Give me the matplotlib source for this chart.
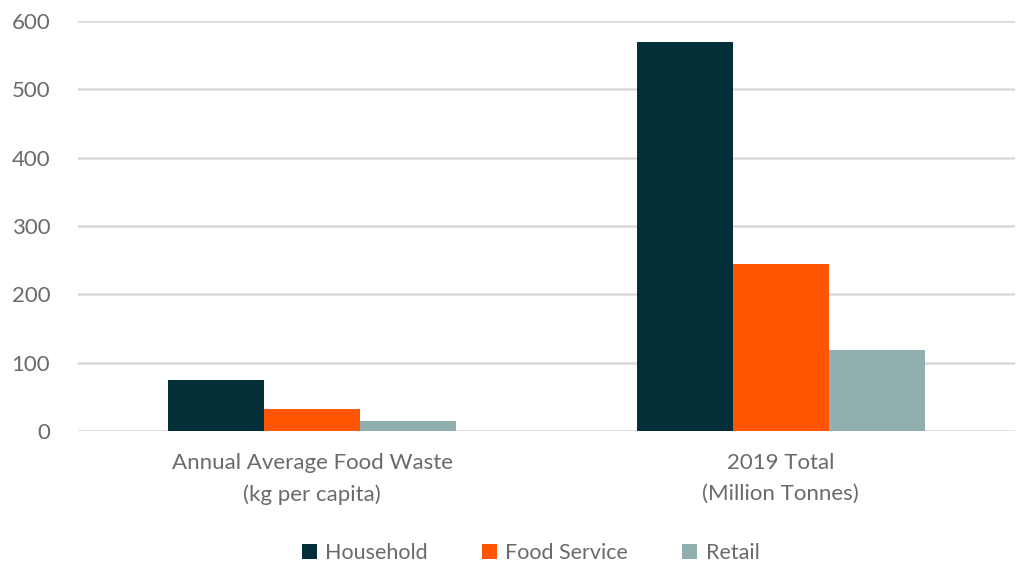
import numpy as np
import matplotlib.pyplot as plt

categories = ["Annual Average Food Waste\n(kg per capita)", "2019 Total\n(Million Tonnes)"]
series = ["Household", "Food Service", "Retail"]
household = [74, 569]
food_service = [32, 244]
retail = [15, 118]
colors = ["#033038", "#FF5500", "#8FB0AF"]
yticks = [0, 100, 200, 300, 400, 500, 600]

plt.rcParams['font.family'] = ['Lato', 'DejaVu Sans']
txt = "#6a6a6a"

fig = plt.figure(figsize=(10.17, 5.63), dpi=100)
ax = fig.add_axes([0.0767, 0.2345, 0.9213, 0.7282])

x = np.arange(len(categories))
w = 0.205
for i, (name, vals) in enumerate(zip(series, [household, food_service, retail])):
	ax.bar(x + (i - 1) * w, vals, w, color=colors[i], label=name, zorder=3)

ax.set_xlim(-0.5, 1.5)
ax.set_ylim(0, 600)
ax.set_yticks(yticks)
ax.set_xticks(x)
ax.set_xticklabels(categories, fontsize=16, color=txt, linespacing=1.65)
ax.tick_params(axis='y', labelsize=16, labelcolor=txt, length=0, pad=20)
ax.tick_params(axis='x', length=0, pad=16)
ax.grid(axis='y', color='#d9d9d9', linewidth=1.8, zorder=0)
for s in ax.spines.values():
	s.set_visible(False)

leg = ax.legend(loc='upper center', bbox_to_anchor=(0.483, -0.225), ncol=3, frameon=False,
	fontsize=15.5, handlelength=0.7, handleheight=0.7, columnspacing=2.5, handletextpad=0.4)
for t in leg.get_texts():
	t.set_color(txt)

fig.savefig("out.png", dpi=100)
